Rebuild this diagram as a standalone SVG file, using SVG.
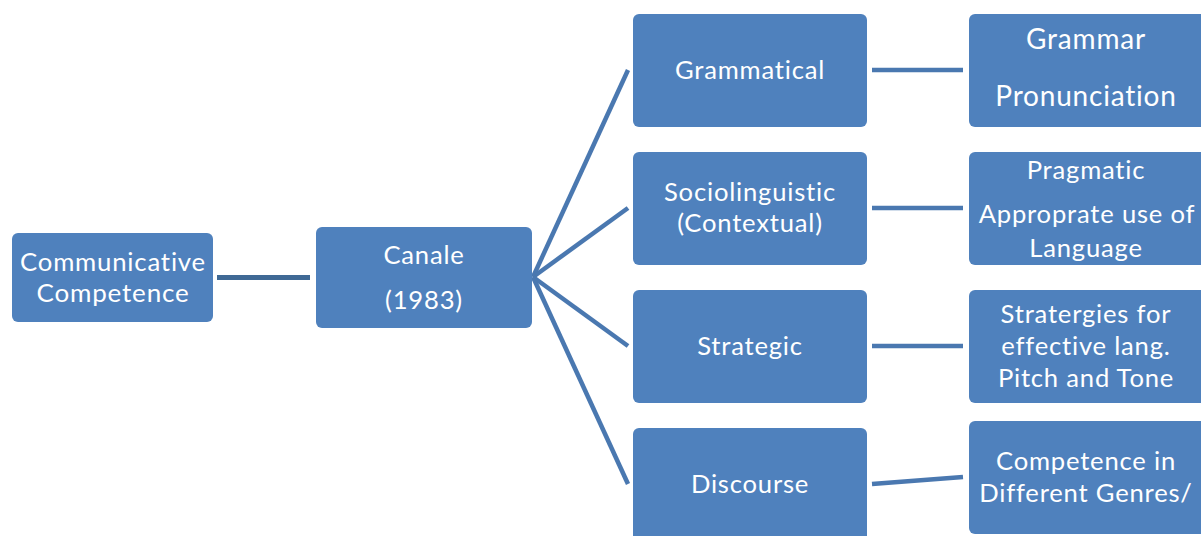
<svg xmlns="http://www.w3.org/2000/svg" width="1201" height="536" viewBox="0 0 1201 536">
<style>
.box{fill:#4F81BD;}
.t{fill:#fff;font-family:Lato,"Open Sans","Liberation Sans",sans-serif;font-size:25.6px;letter-spacing:0.8px;text-anchor:middle;}
.big{font-size:28px;}
.c{stroke:#4A78B0;stroke-width:4.5;fill:none;}
.d{stroke:#3F6995;stroke-width:5;fill:none;}
</style>
<rect width="1201" height="536" fill="#fff"/>
<g id="connectors">
<line class="d" x1="217" y1="277.5" x2="310" y2="277.5"/>
<line class="c" x1="533" y1="277" x2="628" y2="70"/>
<line class="c" x1="533" y1="277" x2="628" y2="208"/>
<line class="c" x1="533" y1="277" x2="628" y2="346"/>
<line class="c" x1="533" y1="277" x2="628" y2="484"/>
<line class="c" x1="872" y1="70" x2="963" y2="70"/>
<line class="c" x1="872" y1="208" x2="963" y2="208"/>
<line class="c" x1="872" y1="346" x2="963" y2="346"/>
<line class="c" x1="872" y1="484" x2="963" y2="477"/>
</g>
<g id="communicative">
<rect class="box" x="12" y="233" width="201" height="89" rx="6"/>
<text class="t" x="113" y="271" textLength="186" lengthAdjust="spacingAndGlyphs">Communicative</text>
<text class="t" x="113" y="302" textLength="153" lengthAdjust="spacingAndGlyphs">Competence</text>
</g>
<g id="canale">
<rect class="box" x="316" y="227" width="216" height="101" rx="6"/>
<text class="t" x="424" y="264">Canale</text>
<text class="t" x="424" y="309">(1983)</text>
</g>
<g id="grammatical">
<rect class="box" x="633" y="14" width="234" height="113" rx="6"/>
<text class="t" x="750" y="79">Grammatical</text>
</g>
<g id="sociolinguistic">
<rect class="box" x="633" y="152" width="234" height="113" rx="6"/>
<text class="t" x="750" y="201">Sociolinguistic</text>
<text class="t" x="750" y="232">(Contextual)</text>
</g>
<g id="strategic">
<rect class="box" x="633" y="290" width="234" height="113" rx="6"/>
<text class="t" x="750" y="355">Strategic</text>
</g>
<g id="discourse">
<rect class="box" x="633" y="428" width="234" height="120" rx="6"/>
<text class="t" x="750" y="493">Discourse</text>
</g>
<g id="grammar">
<rect class="box" x="969" y="14" width="240" height="113" rx="6"/>
<text class="t big" x="1086" y="49">Grammar</text>
<text class="t big" x="1086" y="106">Pronunciation</text>
</g>
<g id="pragmatic">
<rect class="box" x="969" y="152" width="240" height="113" rx="6"/>
<text class="t" x="1086" y="179">Pragmatic</text>
<text class="t" x="1087" y="223">Approprate use of</text>
<text class="t" x="1086" y="257">Language</text>
</g>
<g id="strategies">
<rect class="box" x="969" y="290" width="240" height="113" rx="6"/>
<text class="t" x="1086" y="323">Stratergies for</text>
<text class="t" x="1086" y="355">effective lang.</text>
<text class="t" x="1086" y="387">Pitch and Tone</text>
</g>
<g id="genres">
<rect class="box" x="969" y="421" width="240" height="113" rx="6"/>
<text class="t" x="1086" y="470">Competence in</text>
<text class="t" x="1086" y="502">Different Genres/</text>
</g>
</svg>
